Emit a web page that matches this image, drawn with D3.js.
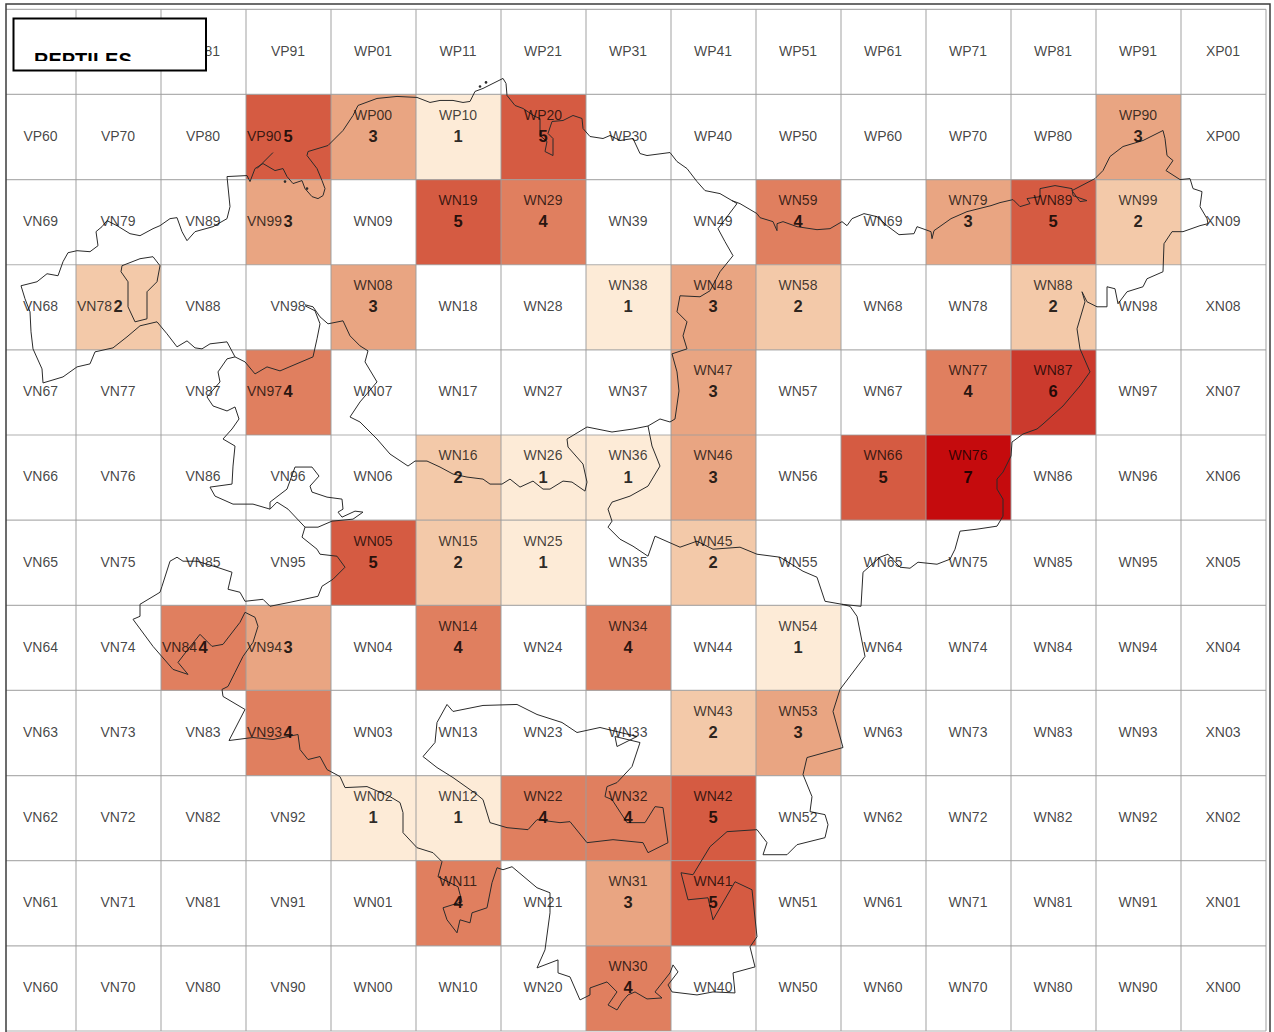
<!DOCTYPE html>
<html>
<head>
<meta charset="utf-8">
<title>Reptiles</title>
<style>
html, body{margin: 0; padding: 0; background: #fff; overflow: hidden;}
svg{display: block;}
text{font-family: "Liberation Sans", Arial, sans-serif;}
</style>
</head>
<body>
<div id="map"></div>
<script src="https://cdn.jsdelivr.net/npm/d3@7"></script>
<script>
//grid square names are built from these
var colLetters = ['V','V','V','V','W','W','W','W','W','W','W','W','W','W','X'];
var colDigits  = [6,7,8,9,0,1,2,3,4,5,6,7,8,9,0];
var rowLetters = ['P','P','N','N','N','N','N','N','N','N','N','N'];
var rowDigits  = [1,0,9,8,7,6,5,4,3,2,1,0];

//squares with records and the count in each
var squares = ['VP90','WP00','WP10','WP20','WP90','VN99','WN19','WN29','WN59','WN79','WN89','WN99',
  'VN78','WN08','WN38','WN48','WN58','WN88','VN97','WN47','WN77','WN87','WN16','WN26','WN36','WN46',
  'WN66','WN76','WN05','WN15','WN25','WN45','VN84','VN94','WN14','WN34','WN54','VN93','WN43','WN53',
  'WN02','WN12','WN22','WN32','WN42','WN11','WN31','WN41','WN30'];
var counts = [5,3,1,5,3,3,5,4,4,3,5,2,
  2,3,1,3,2,2,4,3,4,6,2,1,1,3,
  5,7,5,2,1,2,4,3,4,4,1,4,2,3,
  1,1,4,4,5,4,3,5,4];
//these have the name squeezed beside the count
var inlineSquares = ['VP90','VN99','VN78','VN97','VN84','VN94','VN93'];
//these names sit fully behind the title box
var coveredSquares = ['VP61','VP71'];
var classColors = ['#fdebd7','#f3c9a9','#e9a582','#e07f5f','#d55b42','#cb3a2d','#c50b0d'];
var title = 'REPTILES';

//outlines: [easting, northing], 85 units to a grid square
var northCoast = [[30,744],[46,748],[56,756],[67,754],[72,768],[77,777],[86,779],[99,778],[107,784],[105,798],[111,803],[116,809],[126,804],[139,796],[149,794],[162,801],[169,804],[179,811],[186,812],[191,798],[196,789],[204,798],[222,803],[236,811],[239,823],[236,853],[256,854],[259,848],[264,861],[272,866],[284,859],[292,861],[296,853],[302,846],[311,849],[314,841],[321,833],[327,831],[332,834],[334,841],[331,849],[326,861],[316,874],[317,878],[337,884],[352,899],[362,914],[367,924],[386,931],[406,933],[426,932],[439,927],[449,929],[462,929],[472,927],[479,928],[484,938],[492,941],[506,948],[512,951],[515,946],[516,934],[524,924],[532,921],[544,913],[549,911],[549,894],[556,888],[554,878],[562,874],[562,891],[557,896],[561,908],[572,909],[582,914],[591,911],[592,901],[599,893],[612,891],[619,894],[629,889],[642,891],[649,876],[656,874],[679,877],[686,868],[696,861],[706,848],[714,839],[729,836],[741,829],[749,826],[766,816],[769,812],[782,808],[786,799],[786,806],[792,808],[806,803],[826,800],[839,801],[851,808],[856,804],[861,811],[873,816],[886,813],[896,804],[908,795],[923,796],[926,803],[940,798],[941,791],[943,799],[960,811],[976,818],[1000,824],[1009,827],[1022,830],[1029,823],[1039,826],[1036,831],[1049,833],[1049,841],[1064,844],[1081,841],[1082,834],[1096,829],[1089,828],[1081,839],[1104,851],[1112,859],[1119,873],[1132,883],[1152,889],[1172,899],[1174,891],[1176,874],[1182,869],[1175,859],[1189,850],[1199,851],[1202,841],[1211,838],[1209,823],[1216,811],[1217,806]];
var eastBorder = [[1217,806],[1209,804],[1192,798],[1181,798],[1173,786],[1172,758],[1156,751],[1152,743],[1136,738],[1127,726],[1124,741],[1116,743],[1116,723],[1106,723],[1096,728],[1091,738],[1094,728],[1086,701],[1089,681],[1099,658],[1089,644],[1072,624],[1052,606],[1046,601],[1032,596],[1021,588],[1020,574],[1012,558],[1006,551],[1006,541],[1012,531],[1012,514],[1006,504],[986,501],[969,499],[964,481],[959,471],[946,466],[927,468],[919,462],[909,463],[897,476],[889,473],[872,458],[870,424],[851,426]];
var midBorder = [[851,426],[834,429],[826,453],[812,459],[789,473],[766,476],[749,483],[722,481],[706,489],[689,483],[664,494],[657,474],[642,484],[629,491],[617,503],[621,509],[617,521],[621,528],[639,534],[657,544],[669,564],[661,584],[657,604],[642,601],[621,598],[596,603],[576,591],[577,583],[592,566],[596,548],[594,539],[581,548],[572,549],[559,541],[552,541],[542,549],[529,543],[519,551],[511,546],[499,546],[492,551],[476,553],[462,556],[449,563],[436,569],[424,569],[417,564],[399,576],[386,591],[369,608],[359,613],[369,628],[386,648],[374,668],[377,679],[369,684],[359,694],[352,709],[337,706],[329,713],[322,723],[314,725]];
var riverBranch = [[741,829],[746,826],[727,801],[734,788],[742,774],[729,758],[719,739],[709,733],[689,734],[686,718],[696,708],[692,694],[696,681],[681,676],[686,658],[688,639],[684,611],[679,608],[669,611],[657,604]];
var westLoop = [[30,744],[34,731],[39,718],[40,698],[42,681],[51,661],[52,647],[72,653],[86,663],[99,666],[104,678],[122,682],[136,693],[149,704],[166,708],[176,696],[186,683],[196,689],[204,682],[211,681],[219,686],[236,688],[244,673],[254,668],[264,656],[276,663],[289,659],[322,673],[326,691],[329,706],[324,719],[314,724]];
var westBranch = [[244,673],[236,671],[227,658],[229,648],[216,633],[222,624],[236,619],[244,623],[248,611],[241,601],[232,591],[244,584],[242,564],[241,546],[219,543],[224,534],[242,526],[262,526],[279,521],[279,528],[296,541],[304,563],[321,563],[328,554],[319,544],[321,538],[336,533],[351,531],[352,521],[347,518],[351,513],[364,519],[372,518],[362,511],[341,509],[327,503],[314,503],[297,521],[286,528],[279,521]];
var southBorder = [[314,503],[311,493],[326,481],[329,476],[346,474],[354,463],[342,451],[331,444],[327,434],[299,428],[279,424],[272,431],[254,429],[249,438],[237,441],[241,458],[226,463],[206,469],[192,469],[186,473],[179,469],[171,444],[169,438],[149,426],[149,414],[142,411],[162,384],[182,361],[197,356],[187,368],[197,381],[209,396],[221,384],[232,386],[249,408],[254,418],[264,413],[267,404],[262,388],[252,374],[244,358],[237,344],[231,341],[232,334],[254,321],[238,290],[262,293],[282,291],[307,296],[309,281],[317,271],[329,274],[336,261],[349,254],[354,243],[376,244],[399,234],[409,228],[412,218],[412,198],[426,183],[442,178],[451,169],[447,154],[467,144],[471,129],[452,123],[456,111],[466,98],[469,111],[479,108],[481,118],[496,123],[501,148],[506,163],[512,161],[521,164],[546,143],[559,138],[559,118],[554,81],[546,63],[567,71],[567,58],[579,54],[589,31],[599,36],[599,43],[616,49],[626,39],[617,26],[626,21],[631,29],[637,36],[644,39],[656,32],[671,33],[664,39],[679,58],[682,66],[687,59],[677,46],[681,39],[706,36],[722,39],[744,38],[742,58],[764,64],[759,84],[766,94],[761,141],[744,149],[722,111],[717,133],[697,131],[690,158],[702,156],[719,184],[736,199],[766,201],[776,188],[772,176],[796,176],[806,186],[834,193],[837,206],[834,216],[819,219],[821,234],[812,256],[816,273],[852,283],[842,319],[849,341],[874,374],[866,414],[859,424],[851,426]];
var innerLoop = [[456,326],[462,319],[492,325],[526,326],[546,316],[571,308],[586,298],[609,303],[646,294],[626,284],[624,294],[649,288],[641,264],[626,248],[616,244],[614,234],[621,231],[636,208],[654,208],[664,224],[672,223],[677,188],[657,178],[652,188],[622,191],[596,188],[579,209],[569,208],[546,211],[537,201],[516,203],[499,208],[492,231],[486,236],[462,253],[446,263],[432,274],[444,288],[446,308],[456,326]];
var northWestLoop = [[131,764],[149,771],[162,773],[169,764],[166,748],[156,738],[156,711],[144,708],[137,723],[137,748],[130,758],[131,764]];
var estuarySpur = [[282,877],[266,861]];
var islets = [[489,943],[495,947],[316,841],[294,848]];
var outlines = [northCoast, eastBorder, midBorder, riverBranch, westLoop, westBranch, southBorder, innerLoop, northWestLoop, estuarySpur];

var width = 1274, height = 1032;
var cell = 85;
var frameLeft = 6, frameTop = 4, frameRight = 1270;

var x = d3.scaleLinear().domain([0, cell*colDigits.length]).range([-9, 1266]);
var y = d3.scaleLinear().domain([0, cell*rowDigits.length]).range([1031, 9.3]);
var color = d3.scaleOrdinal().domain(d3.range(1, 8)).range(classColors);

var svg = d3.select('#map').append('svg')
    .attr('width', width)
    .attr('height', height);

//one record per grid square
var grid = [];
rowDigits.forEach(function(rd, r){
  colDigits.forEach(function(cd, c){
    var name = colLetters[c] + rowLetters[r] + cd + rd;
    var i = squares.indexOf(name);
    var left = Math.max(x(c*cell), frameLeft);
    var top = y((rowDigits.length-r)*cell);
    var bottom = y((rowDigits.length-r-1)*cell);
    grid.push({name: name, count: i < 0 ? 0 : counts[i], left: left, right: x((c+1)*cell), top: top, bottom: bottom});
  });
});

//filled squares
svg.append('g').selectAll('rect')
    .data(grid.filter(d => d.count > 0))
  .enter().append('rect')
    .attr('x', d => d.left)
    .attr('y', d => d.top)
    .attr('width', d => d.right - d.left)
    .attr('height', d => d.bottom - d.top)
    .attr('fill', d => color(d.count));

//grid lines
var gridG = svg.append('g').attr('stroke', '#9c9c9c').attr('stroke-opacity', 0.8).attr('stroke-width', 1.2);
gridG.selectAll('line.v')
    .data(d3.range(1, colDigits.length+1))
  .enter().append('line')
    .attr('class', 'v')
    .attr('x1', d => x(d*cell))
    .attr('x2', d => x(d*cell))
    .attr('y1', y(cell*rowDigits.length))
    .attr('y2', y(0));
gridG.selectAll('line.h')
    .data(d3.range(0, rowDigits.length+1))
  .enter().append('line')
    .attr('class', 'h')
    .attr('x1', frameLeft)
    .attr('x2', x(cell*colDigits.length))
    .attr('y1', d => y(d*cell))
    .attr('y2', d => y(d*cell));

//region outlines
var line = d3.line().x(d => x(d[0])).y(d => y(d[1]));
svg.append('g').selectAll('path')
    .data(outlines)
  .enter().append('path')
    .attr('d', line)
    .attr('fill', 'none')
    .attr('stroke', '#2b2b2b')
    .attr('stroke-width', 1)
    .attr('stroke-linejoin', 'round');
svg.append('g').selectAll('circle')
    .data(islets)
  .enter().append('circle')
    .attr('cx', d => x(d[0]))
    .attr('cy', d => y(d[1]))
    .attr('r', 1.3)
    .attr('fill', '#2b2b2b');

//square names
svg.append('g').selectAll('text')
    .data(grid.filter(d => coveredSquares.indexOf(d.name) < 0))
  .enter().append('text')
    .attr('x', d => inlineSquares.indexOf(d.name) >= 0 ? d.left + 1 : (d.left + d.right)/2 - 0.5)
    .attr('y', d => (d.top + d.bottom)/2 - 1 - (d.count > 0 && inlineSquares.indexOf(d.name) < 0 ? 21 : 0))
    .attr('dy', '0.35em')
    .attr('text-anchor', d => inlineSquares.indexOf(d.name) >= 0 ? 'start' : 'middle')
    .attr('font-size', 14)
    .attr('fill', '#000')
    .attr('fill-opacity', 0.74)
    .text(d => d.name);

//counts
svg.append('g').selectAll('text')
    .data(grid.filter(d => d.count > 0))
  .enter().append('text')
    .attr('x', d => (d.left + d.right)/2 - 0.5)
    .attr('y', d => (d.top + d.bottom)/2 - 1)
    .attr('dy', '0.36em')
    .attr('text-anchor', 'middle')
    .attr('font-size', 16.5)
    .attr('font-weight', 'bold')
    .attr('fill', '#000')
    .attr('fill-opacity', 0.84)
    .text(d => d.count);

//map frame, bottom edge runs off the page
svg.append('rect')
    .attr('x', frameLeft)
    .attr('y', frameTop)
    .attr('width', frameRight - frameLeft)
    .attr('height', height)
    .attr('fill', 'none')
    .attr('stroke', '#3c3c3c')
    .attr('stroke-width', 1.5);

//title box, the text is cut off by the box as in the original
svg.append('clipPath')
    .attr('id', 'title-clip')
  .append('rect')
    .attr('x', 14)
    .attr('y', 19)
    .attr('width', 192)
    .attr('height', 42);
svg.append('rect')
    .attr('x', 13.5)
    .attr('y', 18.5)
    .attr('width', 192.5)
    .attr('height', 52)
    .attr('fill', '#fff')
    .attr('stroke', '#000')
    .attr('stroke-width', 2);
svg.append('text')
    .attr('x', 34)
    .attr('y', 66.5)
    .attr('clip-path', 'url(#title-clip)')
    .attr('font-size', 20)
    .attr('font-weight', 'bold')
    .attr('fill', '#000')
    .text(title);
</script>
</body>
</html>
